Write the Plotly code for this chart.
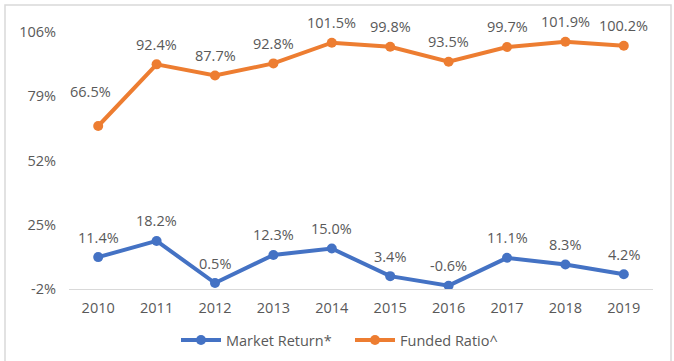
import plotly.graph_objects as go

years = ["2010", "2011", "2012", "2013", "2014", "2015", "2016", "2017", "2018", "2019"]
market_return = [11.4, 18.2, 0.5, 12.3, 15.0, 3.4, -0.6, 11.1, 8.3, 4.2]
funded_ratio = [66.5, 92.4, 87.7, 92.8, 101.5, 99.8, 93.5, 99.7, 101.9, 100.2]
y_ticks = [-2, 25, 52, 79, 106]

BLUE = "#4472C4"
ORANGE = "#ED7D31"
TEXT = "#595959"
FONT = "Open Sans"
FS = 14.5

fig = go.Figure()
fig.add_trace(go.Scatter(
    x=years, y=market_return, name="Market Return*", mode="lines+markers",
    line=dict(color=BLUE, width=4), marker=dict(color=BLUE, size=10),
))
fig.add_trace(go.Scatter(
    x=years, y=funded_ratio, name="Funded Ratio^", mode="lines+markers",
    line=dict(color=ORANGE, width=4), marker=dict(color=ORANGE, size=10),
))

# value labels above each point (x given as category index)
annotations = []
for series in (market_return, funded_ratio):
    for i, v in enumerate(series):
        xs, ys = 0, 20
        if series is funded_ratio and i == 0:
            xs, ys = -8, 35
        annotations.append(dict(
            x=i, y=v, xref="x", yref="y", text=f"{v:.1f}%", showarrow=False,
            xshift=xs, yshift=ys, yanchor="middle",
            font=dict(family=FONT, size=FS, color=TEXT),
        ))

W, H = 674, 361
ml, mr, mt, mb = 69, 21, 32, 72
pw, ph = W - ml - mr, H - mt - mb

def px_x(p):
    return (p - ml) / pw

def px_y(p):
    return (H - mb - p) / ph

# light frame around the whole chart
fig.add_shape(type="rect", xref="paper", yref="paper",
              x0=px_x(5), x1=px_x(671), y0=px_y(370), y1=px_y(5),
              line=dict(color="#D9D9D9", width=1.5), fillcolor="rgba(0,0,0,0)",
              layer="below")

fig.update_layout(
    width=W, height=H,
    margin=dict(l=ml, r=mr, t=mt, b=mb, autoexpand=False),
    paper_bgcolor="white", plot_bgcolor="white",
    font=dict(family=FONT, size=FS, color=TEXT),
    showlegend=True,
    legend=dict(orientation="h", x=px_x(176), xanchor="left", y=px_y(340), yanchor="middle",
                font=dict(family=FONT, size=FS, color=TEXT), itemwidth=40,
                entrywidth=119),
    annotations=annotations,
    xaxis=dict(type="category", range=[-0.5, len(years) - 0.5], showgrid=False,
               showline=True, linecolor="#D9D9D9",
               linewidth=1, ticks="", ticklabelstandoff=6,
               tickfont=dict(family=FONT, size=FS, color=TEXT), fixedrange=True),
    yaxis=dict(range=[-2, 106], tickvals=y_ticks, ticktext=[f"{t}%" for t in y_ticks],
               showgrid=False, zeroline=False, showline=False, ticks="",
               ticklabelstandoff=12,
               tickfont=dict(family=FONT, size=FS, color=TEXT), fixedrange=True),
)

fig.write_html("out.html")
